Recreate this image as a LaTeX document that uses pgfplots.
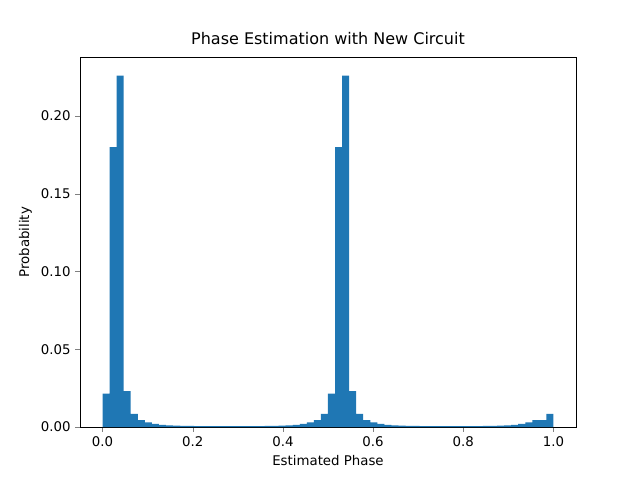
\documentclass[border=0pt]{standalone}
\usepackage{pgfplots}
\pgfplotsset{compat=1.18}
\usepackage{fontspec}
\setmainfont{DejaVu Sans}
\begin{document}
\begin{tikzpicture}
\begin{axis}[
  scale only axis, width=372pt, height=277pt,
  xmin=-0.05, xmax=1.05, ymin=0, ymax=0.2375,
  xtick={0,0.2,0.4,0.6,0.8,1.0}, ytick={0,0.05,0.10,0.15,0.20},
  xticklabel style={/pgf/number format/.cd,fixed,fixed zerofill,precision=1},
  yticklabel style={/pgf/number format/.cd,fixed,fixed zerofill,precision=2},
  /pgf/number format/assume math mode=true,
  tick align=outside, tick pos=left, major tick length=3.5pt,
  font=\fontsize{10}{12}\selectfont,
  title={Phase Estimation with New Circuit},
  title style={font=\fontsize{12}{14}\selectfont},
  xlabel={Estimated Phase}, ylabel={Probability},
  axis line style={line width=0.6pt},
]
\addplot[ybar interval, fill={rgb,255:red,31;green,119;blue,180}, draw=none] coordinates {
(0/64,0.0215)(1/64,0.180)(2/64,0.226)(3/64,0.0231)(4/64,0.0084)(5/64,0.0045)(6/64,0.003)(7/64,0.002)
(8/64,0.0014)(9/64,0.0011)(10/64,0.0009)(11/64,0.0008)(12/64,0.0007)(13/64,0.0006)(14/64,0.0006)(15/64,0.0005)
(16/64,0.0005)(17/64,0.0005)(18/64,0.0005)(19/64,0.0005)(20/64,0.0005)(21/64,0.0006)(22/64,0.0006)(23/64,0.0007)
(24/64,0.0008)(25/64,0.0009)(26/64,0.0011)(27/64,0.0014)(28/64,0.002)(29/64,0.003)(30/64,0.0045)(31/64,0.0084)
(32/64,0.0215)(33/64,0.180)(34/64,0.226)(35/64,0.0231)(36/64,0.0084)(37/64,0.0045)(38/64,0.003)(39/64,0.002)
(40/64,0.0014)(41/64,0.0011)(42/64,0.0009)(43/64,0.0008)(44/64,0.0007)(45/64,0.0006)(46/64,0.0006)(47/64,0.0005)
(48/64,0.0005)(49/64,0.0005)(50/64,0.0005)(51/64,0.0005)(52/64,0.0006)(53/64,0.0006)(54/64,0.0007)(55/64,0.0008)
(56/64,0.0009)(57/64,0.0011)(58/64,0.0014)(59/64,0.002)(60/64,0.003)(61/64,0.0045)(62/64,0.0045)(63/64,0.0084)(64/64,0.0084)
};
\path (rel axis cs:0,0) coordinate (ll);
\end{axis}
\useasboundingbox ([shift={(-60pt,-39.75pt)}]ll) rectangle ++(480pt,360pt);
\end{tikzpicture}
\end{document}
